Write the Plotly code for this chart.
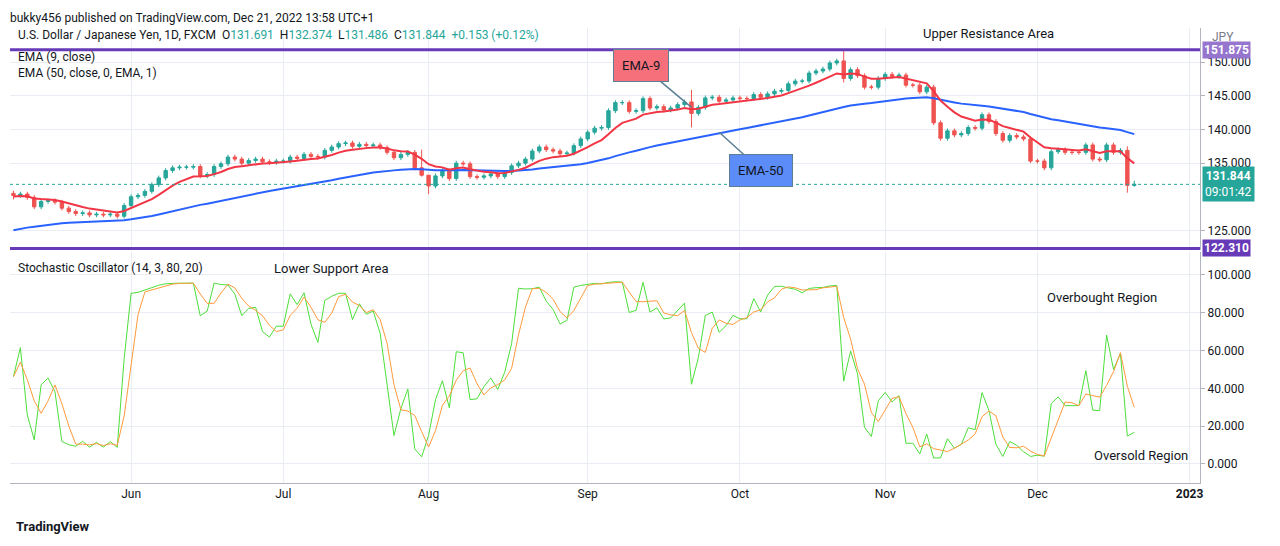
import plotly.graph_objects as go
from plotly.subplots import make_subplots
import pandas as pd
import numpy as np

# daily closes, USD/JPY (May 9 - Dec 21 2022)
closes_may = [130.2, 130.4, 129.9, 128.5, 129.3, 129.4, 129.2, 128.3, 127.8, 127.5,
              127.6, 127.3, 127.4, 127.3, 127.4, 127.1, 128.7]
closes_jun = [130.0, 130.2, 130.8, 131.8, 132.8, 133.9, 134.3, 134.4, 134.4, 134.5, 133.1,
              133.3, 134.5, 134.9, 135.9, 135.6, 135.0, 135.4, 135.6, 135.2, 135.1, 135.3]
closes_jul = [135.3, 135.9, 135.7, 136.3, 136.0, 135.9, 136.9, 137.4, 137.9, 138.0, 137.5,
              137.8, 137.6, 137.7, 137.3, 136.6, 135.8, 136.3, 136.6, 134.3, 133.2]
closes_aug = [131.6, 133.1, 133.9, 132.7, 135.0, 134.9, 133.0, 132.9, 133.1, 133.4, 133.0, 133.6,
              134.6, 135.0, 135.6, 136.8, 137.4, 137.0, 136.8, 136.4, 136.5, 137.6, 138.6]
closes_sep = [139.6, 140.2, 140.3, 142.8, 144.0, 144.0, 142.7, 142.8, 144.6, 143.2, 143.4,
              142.9, 143.2, 143.7, 144.1, 142.4, 143.3, 144.7, 144.8, 144.2, 144.4, 144.7]
closes_oct = [144.6, 144.6, 145.2, 144.8, 145.3, 145.7, 145.8, 146.8, 147.2, 147.2, 148.4,
              148.7, 149.0, 149.9, 150.2, 147.6, 148.9, 148.0, 146.3, 146.3, 147.6]
closes_nov = [148.2, 147.9, 148.1, 146.6, 146.6, 145.6, 146.3, 141.0, 138.7, 139.8, 139.2,
              139.4, 140.3, 140.2, 142.2, 141.2, 139.4, 138.4, 139.1, 138.9, 138.6, 135.3]
closes_dec = [135.3, 134.3, 136.7, 137.0, 136.6, 136.6, 136.6, 137.7, 135.6, 135.5, 137.7,
              136.6, 136.9, 131.7, 131.844]
first_open = 130.5

# a few wicks that stand out on the chart: {day index: (high, low)}
spikes = {0: (130.9, 129.6), 59: (137.0, 133.0), 60: (133.0, 130.4), 98: (145.9, 140.3),
          120: (151.9, 147.0), 147: (139.0, 135.0), 161: (137.5, 130.6), 162: (132.374, 131.486)}

month_ticks = [17, 39, 60, 83, 105, 126, 148, 170]
month_labels = ['Jun', 'Jul', 'Aug', 'Sep', 'Oct', 'Nov', 'Dec', '<b>2023</b>']

upper_line = 151.875
lower_line = 122.310
ema9_seed = 130.0
ema50_seed = 124.8

close = np.array(closes_may + closes_jun + closes_jul + closes_aug + closes_sep
                 + closes_oct + closes_nov + closes_dec)
n = len(close)
idx = np.arange(n)
opn = np.concatenate([[first_open], close[:-1]])
opn[-1] = 131.691
high = np.maximum(opn, close) + 0.35
low = np.minimum(opn, close) - 0.35
for i, (h, l) in spikes.items():
    high[i], low[i] = h, l

def ema(vals, length, seed):
    a = 2 / (length + 1)
    out, prev = [], seed
    for v in vals:
        prev = a * v + (1 - a) * prev
        out.append(prev)
    return np.array(out)

ema9 = ema(close, 9, ema9_seed)
ema50 = ema(close, 50, ema50_seed)

hh = pd.Series(high).rolling(14, min_periods=1).max()
ll = pd.Series(low).rolling(14, min_periods=1).min()
k = 100 * (pd.Series(close) - ll) / (hh - ll)
d = k.rolling(3, min_periods=1).mean()

fig = make_subplots(rows=2, cols=1, shared_xaxes=True, vertical_spacing=0.004,
                    row_heights=[0.49, 0.51])

fig.add_trace(go.Candlestick(x=idx, open=opn, high=high, low=low, close=close,
                             increasing=dict(line=dict(color='#26a69a', width=1), fillcolor='#26a69a'),
                             decreasing=dict(line=dict(color='#ef5350', width=1), fillcolor='#ef5350'),
                             whiskerwidth=0, showlegend=False), row=1, col=1)
fig.add_trace(go.Scatter(x=idx, y=ema50, mode='lines', line=dict(color='#2962ff', width=2),
                         showlegend=False), row=1, col=1)
fig.add_trace(go.Scatter(x=idx, y=ema9, mode='lines', line=dict(color='#f23645', width=2),
                         showlegend=False), row=1, col=1)

# support / resistance lines and last price
for lvl in (upper_line, lower_line):
    fig.add_hline(y=lvl, line=dict(color='#673ab7', width=3), row=1, col=1)
fig.add_hline(y=close[-1], line=dict(color='#26a69a', width=1, dash='dot'), row=1, col=1)

# stochastic band
fig.add_hrect(y0=20, y1=80, fillcolor='rgba(156,39,176,0.10)', line_width=0, row=2, col=1)
for lvl in (20, 80):
    fig.add_hline(y=lvl, line=dict(color='#787b86', width=1, dash='dash'), row=2, col=1)
fig.add_trace(go.Scatter(x=idx, y=k, mode='lines', line=dict(color='#4cdf3a', width=1),
                         showlegend=False), row=2, col=1)
fig.add_trace(go.Scatter(x=idx, y=d, mode='lines', line=dict(color='#ff9a3c', width=1),
                         showlegend=False), row=2, col=1)

grid = '#e9edf3'
fig.update_xaxes(range=[-0.5, 171.5], showgrid=True, gridcolor=grid, zeroline=False,
                 tickvals=month_ticks, ticktext=month_labels, rangeslider_visible=False,
                 tickfont=dict(size=12, color='#131722'), showline=True, linecolor='#b2b5be',
                 mirror=False)
fig.update_xaxes(showline=False, row=1, col=1)
fig.update_yaxes(side='right', showgrid=True, gridcolor=grid, zeroline=False,
                 tickfont=dict(size=12, color='#131722'), tickformat='.3f',
                 showline=True, linecolor='#b2b5be', ticks='outside', ticklen=4, tickcolor='#b2b5be')
fig.update_yaxes(range=[122.07, 155.1], tickvals=[125, 135, 140, 145, 150], row=1, col=1)
fig.update_yaxes(range=[-10.1, 112.2], tickvals=[0, 20, 40, 60, 80, 100], row=2, col=1)

txt = dict(family='Roboto, Arial', size=12, color='#131722')
ann = [
    dict(x=0, y=1, xref='paper', yref='paper', xanchor='left', yanchor='top', showarrow=False,
         text="U.S. Dollar / Japanese Yen, 1D, FXCM  O<span style='color:#26a69a'>131.691</span>  "
              "H<span style='color:#26a69a'>132.374</span>  L<span style='color:#26a69a'>131.486</span>  "
              "C<span style='color:#26a69a'>131.844  +0.153 (+0.12%)</span>", xshift=6, yshift=2),
    dict(x=0, y=0.955, xref='paper', yref='paper', xanchor='left', yanchor='top', showarrow=False,
         text='EMA (9, close)', xshift=6),
    dict(x=0, y=0.92, xref='paper', yref='paper', xanchor='left', yanchor='top', showarrow=False,
         text='EMA (50, close, 0, EMA, 1)', xshift=6),
    dict(x=0, y=0.493, xref='paper', yref='paper', xanchor='left', yanchor='top', showarrow=False,
         text='Stochastic Oscillator (14, 3, 80, 20)', xshift=6),
    dict(x=0.27, y=0.493, xref='paper', yref='paper', xanchor='center', yanchor='top', showarrow=False,
         text='Lower Support Area', font=dict(size=13)),
    dict(x=0.822, y=1.0, xref='paper', yref='paper', xanchor='center', yanchor='top', showarrow=False,
         text='Upper Resistance Area', font=dict(size=13), yshift=4),
    dict(x=0.918, y=0.408, xref='paper', yref='paper', xanchor='center', showarrow=False,
         text='Overbought Region', font=dict(size=13)),
    dict(x=0.95, y=0.04, xref='paper', yref='paper', xanchor='center', showarrow=False,
         text='Oversold Region', font=dict(size=13)),
    dict(x=98, y=143.3, xref='x', yref='y', ax=-50, ay=-42, text='EMA-9', showarrow=True,
         arrowhead=0, arrowcolor='#5b7f95', arrowwidth=1.5, bgcolor='#f5707a', bordercolor='#5b7f95',
         borderpad=8, font=dict(size=13, color='#131722')),
    dict(x=102, y=139.6, xref='x', yref='y', ax=42, ay=38, text='EMA-50', showarrow=True,
         arrowhead=0, arrowcolor='#5b7f95', arrowwidth=1.5, bgcolor='#5b8cf7', bordercolor='#5b7f95',
         borderpad=8, font=dict(size=13, color='#131722')),
    dict(x=1, y=close[-1], xref='paper', yref='y', xanchor='left', showarrow=False,
         text='<b>131.844</b><br>09:01:42', bgcolor='#26a69a', font=dict(size=12, color='white'),
         xshift=2, borderpad=2),
    dict(x=1, y=lower_line, xref='paper', yref='y', xanchor='left', showarrow=False,
         text='<b>122.310</b>', bgcolor='#673ab7', font=dict(size=12, color='white'),
         xshift=2, borderpad=1),
    dict(x=1, y=upper_line, xref='paper', yref='y', xanchor='left', showarrow=False,
         text='<b>151.875</b>', bgcolor='#9575cd', font=dict(size=12, color='white'),
         xshift=2, borderpad=1),
    dict(x=1, y=1, xref='paper', yref='paper', xanchor='left', yanchor='top', showarrow=False,
         text='JPY', xshift=10, font=dict(size=12, color='#787b86')),
    dict(x=0, y=1, xref='paper', yref='paper', xanchor='left', yanchor='bottom', showarrow=False,
         text='bukky456 published on TradingView.com, Dec 21, 2022 13:58 UTC+1', yshift=1, xshift=-2),
    dict(x=0, y=0, xref='paper', yref='paper', xanchor='left', yanchor='top', showarrow=False,
         text='<b>TradingView</b>', yshift=-34, xshift=4, font=dict(size=13)),
]
fig.update_layout(width=1280, height=546, margin=dict(l=2, r=88, t=20, b=71),
                  paper_bgcolor='white', plot_bgcolor='white', font=txt,
                  annotations=ann, showlegend=False)

fig.write_html("out.html")
